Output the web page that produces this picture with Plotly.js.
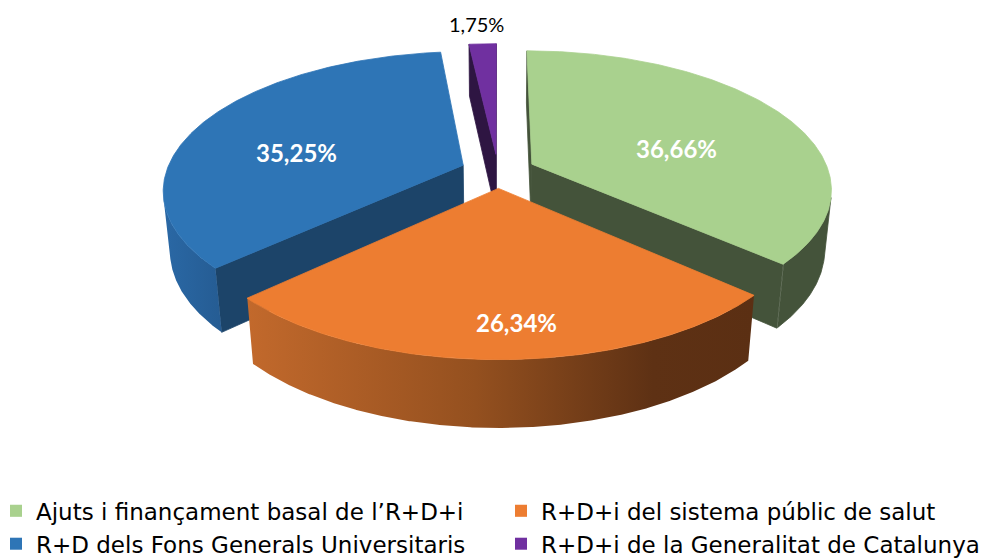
<!DOCTYPE html>
<html>
<head>
<meta charset="utf-8">
<script src="https://cdn.plot.ly/plotly-3.0.1.min.js"></script>
<style>html,body{margin:0;padding:0;background:#fff;}#chart{width:983px;height:558px;}</style>
</head>
<body>
<div id="chart"></div>
<script>
// ---- data ----
const categories = [
  "Ajuts i finançament basal de l’R+D+i",
  "R+D+i del sistema públic de salut",
  "R+D dels Fons Generals Universitaris",
  "R+D+i de la Generalitat de Catalunya"
];
const values = [36.66, 26.34, 35.25, 1.75];
const valueLabels = values.map(v => v.toFixed(2).replace('.', ',') + '%');

// ---- style ----
const topColors  = ['#A9D18E', '#ED7D31', '#2E75B6', '#7030A0'];
const cutColors  = ['#44533A', '#6E3A17', '#1C4469', '#2E1542'];
const sideColors = ['#44533A', null, null, '#2E1542'];
const sideGradient = [
  null,
  [[0, '#C2692C'], [0.45, '#94501F'], [0.8, '#5E3114'], [1, '#5B2F13']],
  [[0, '#2A68A5'], [1, '#255C93']],
  null
];
const legendOf   = ['legend', 'legend2', 'legend', 'legend2'];
const labelShift  = [10.2, -3.05, -10.35, -0.82];   // degrees from slice middle
const labelRadius = [0.52, 0.818, 0.585, 1.218];
const labelFont = [
  {family: 'Lato', size: 24, color: '#FFFFFF', weight: 700},
  {family: 'Lato', size: 24, color: '#FFFFFF', weight: 700},
  {family: 'Lato', size: 24, color: '#FFFFFF', weight: 700},
  {family: 'Lato', size: 20, color: '#000000', weight: 400}
];

// ---- 3D projection (perspective, tilted pie) ----
const F = 1532.5, D = 5.165, sa = 0.455, ca = Math.sqrt(1 - sa * sa);
const Cx = 498, Cy = 171, EXP = 0.126, H = 0.228;
const cam = [0, -D * ca, D * sa];
const rad = d => d * Math.PI / 180;
function proj(X, Y, Z) {
  const yv = Y * sa + Z * ca, dv = D + Y * ca - Z * sa;
  return [Cx + F * X / dv, Cy - F * yv / dv];
}
function dir(a) { return [Math.sin(rad(a)), Math.cos(rad(a))]; }

const total = values.reduce((s, v) => s + v, 0);
const slices = [];
let acc = 0;
values.forEach((v, i) => {
  const a1 = acc / total * 360, a2 = (acc + v) / total * 360;
  acc += v;
  const mid = (a1 + a2) / 2;
  const d = dir(mid);
  slices.push({i, a1, a2, mid, A: [EXP * d[0], EXP * d[1]]});
});

const traces = [];
function poly(pts, color, grad) {
  const xs = pts.map(p => p[0]), ys = pts.map(p => p[1]);
  xs.push(xs[0]); ys.push(ys[0]);
  const t = {
    type: 'scatter', x: xs, y: ys, mode: 'lines', fill: 'toself',
    fillcolor: color || '#888', line: {color: color || 'rgba(0,0,0,0)', width: color ? 0.8 : 0},
    hoverinfo: 'skip', showlegend: false
  };
  if (grad) {
    t.fillgradient = {type: 'horizontal', colorscale: grad};
    t.fillcolor = grad[0][1];
    t.line = {width: 0, color: 'rgba(0,0,0,0)'};
  }
  traces.push(t);
}
function rim(s, a, z) {
  const d = dir(a);
  return proj(s.A[0] + d[0], s.A[1] + d[1], z);
}

const order = slices.slice().sort((p, q) => q.A[1] - p.A[1]);
order.forEach(s => {
  const i = s.i;
  const apexTop = proj(s.A[0], s.A[1], 0), apexBot = proj(s.A[0], s.A[1], -H);
  // cut faces
  [[s.a1, -1], [s.a2, 1]].forEach(([a, sg]) => {
    const n = [sg * Math.cos(rad(a)), -sg * Math.sin(rad(a))];
    const vis = (cam[0] - s.A[0]) * n[0] + (cam[1] - s.A[1]) * n[1];
    if (vis > 0) poly([apexTop, rim(s, a, 0), rim(s, a, -H), apexBot], cutColors[i]);
  });
  // outer side (visible part)
  const step = 0.25;
  const vis = [];
  for (let a = s.a1; a <= s.a2 + 1e-9; a += step) {
    const aa = Math.min(a, s.a2);
    const d = dir(aa);
    const P = [s.A[0] + d[0], s.A[1] + d[1]];
    if ((cam[0] - P[0]) * d[0] + (cam[1] - P[1]) * d[1] > 0) vis.push(aa);
  }
  if (vis.length > 1) {
    const topArc = vis.map(a => rim(s, a, 0));
    const botArc = vis.slice().reverse().map(a => rim(s, a, -H));
    poly(topArc.concat(botArc), sideColors[i], sideGradient[i]);
  }
  // top face
  const arc = [];
  for (let a = s.a1; a <= s.a2 + 1e-9; a += 0.5) arc.push(rim(s, Math.min(a, s.a2), 0));
  arc.push(rim(s, s.a2, 0));
  poly([apexTop].concat(arc), topColors[i]);
});

// legend entries
categories.forEach((c, i) => {
  traces.push({
    type: 'scatter', x: [null], y: [null], mode: 'markers', name: c, legend: legendOf[i],
    marker: {symbol: 'square', size: 12, color: topColors[i]}, showlegend: true, hoverinfo: 'skip'
  });
});

// labels
const annotations = slices.map(s => {
  const a = s.mid + labelShift[s.i], r = labelRadius[s.i];
  const d = dir(a);
  const p = proj(s.A[0] + r * d[0], s.A[1] + r * d[1], 0);
  return {x: p[0], y: p[1], xref: 'x', yref: 'y', text: valueLabels[s.i], showarrow: false,
          xanchor: 'center', yanchor: 'middle', font: labelFont[s.i]};
});

const legendFont = {family: 'DejaVu Sans', size: 23, color: '#000000'};
const layout = {
  width: 983, height: 558,
  margin: {l: 0, r: 0, t: 0, b: 0, autoexpand: false},
  paper_bgcolor: '#FFFFFF', plot_bgcolor: '#FFFFFF',
  xaxis: {range: [0, 983], visible: false, fixedrange: true},
  yaxis: {range: [558, 0], visible: false, fixedrange: true},
  showlegend: true,
  legend: {
    orientation: 'v', x: -4 / 983, xanchor: 'left', y: 0.123, yanchor: 'top',
    traceorder: 'normal', font: legendFont, bgcolor: 'rgba(0,0,0,0)'
  },
  legend2: {
    orientation: 'v', x: 501 / 983, xanchor: 'left', y: 0.123, yanchor: 'top',
    traceorder: 'normal', font: legendFont, bgcolor: 'rgba(0,0,0,0)'
  },
  annotations
};
Plotly.newPlot('chart', traces, layout, {displayModeBar: false, staticPlot: true});
</script>
</body>
</html>
